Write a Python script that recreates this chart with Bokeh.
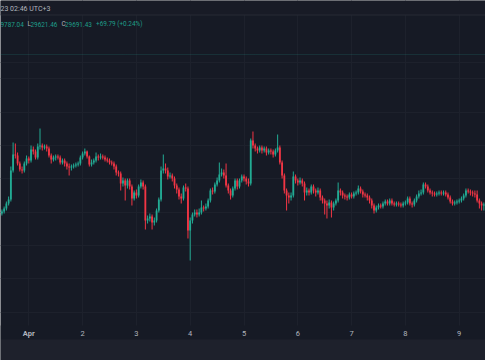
import datetime as dt
from bokeh.plotting import figure
from bokeh.models import Range1d, FixedTicker, Span, Label, ColumnDataSource, Grid
from bokeh.embed import file_html
from bokeh.resources import INLINE

# ---------------- data (hourly BTC candles, UTC+3) ----------------
first_bar = dt.datetime(2023, 3, 31, 12)

opens = [
    27784, 27808, 27844, 27904, 27952, 28300, 28492, 28480, 28384, 28312, 28300, 28384,
    28444, 28420, 28552, 28528, 28456, 28588, 28600, 28576, 28588, 28564, 28480, 28432,
    28456, 28468, 28456, 28396, 28420, 28384, 28348, 28336, 28348, 28360, 28372, 28384,
    28456, 28504, 28528, 28468, 28372, 28396, 28420, 28468, 28456, 28468, 28456, 28432,
    28420, 28396, 28384, 28348, 28276, 28264, 28144, 28180, 28120, 28180, 28108, 27964,
    28036, 28000, 28108, 28156, 28108, 27700, 27724, 27748, 27676, 27700, 27820, 27952,
    28300, 28324, 28300, 28228, 28240, 28204, 28120, 28072, 27988, 27964, 28096, 28084,
    27580, 27700, 27772, 27796, 27772, 27796, 27856, 27844, 27868, 27940, 28060, 28048,
    28132, 28180, 28252, 28276, 28240, 28120, 28060, 28000, 28084, 28180, 28108, 28180,
    28228, 28204, 28168, 28144, 28660, 28600, 28564, 28540, 28576, 28540, 28564, 28516,
    28540, 28528, 28492, 28540, 28576, 28396, 28240, 28060, 28000, 27976, 28000, 28228,
    28180, 28156, 28180, 28144, 28036, 28060, 28036, 28108, 28060, 28036, 28060, 27976,
    27940, 27904, 27880, 27916, 27856, 27904, 27940, 28060, 28036, 28000, 27988, 27976,
    28012, 27988, 28024, 28036, 28084, 28048, 28012, 28000, 27976, 27940, 27880, 27820,
    27856, 27880, 27868, 27904, 27928, 27904, 27940, 27904, 27892, 27904, 27892, 27880,
    27904, 27916, 27964, 27904, 27892, 27940, 27988, 28024, 28036, 28132, 28108, 28060,
    28036, 28024, 28012, 28024, 28036, 28024, 28036, 28012, 27976, 27928, 27904, 27916,
    27928, 27940, 27964, 28000, 28060, 28048, 28036, 28024, 28012, 27940, 27904, 27880,
]
closes = [
    27808, 27844, 27904, 27952, 28300, 28492, 28480, 28384, 28312, 28300, 28384, 28444,
    28420, 28552, 28528, 28456, 28588, 28600, 28576, 28588, 28564, 28480, 28432, 28456,
    28468, 28456, 28396, 28420, 28384, 28348, 28336, 28348, 28360, 28372, 28384, 28456,
    28504, 28528, 28468, 28372, 28396, 28420, 28468, 28456, 28468, 28456, 28432, 28420,
    28396, 28384, 28348, 28276, 28264, 28144, 28180, 28120, 28180, 28108, 27964, 28036,
    28000, 28108, 28156, 28108, 27700, 27724, 27748, 27676, 27700, 27820, 27952, 28300,
    28324, 28300, 28228, 28240, 28204, 28120, 28072, 27988, 27964, 28096, 28084, 27580,
    27700, 27772, 27796, 27772, 27796, 27856, 27844, 27868, 27940, 28060, 28048, 28132,
    28180, 28252, 28276, 28240, 28120, 28060, 28000, 28084, 28180, 28108, 28180, 28228,
    28204, 28168, 28144, 28660, 28600, 28564, 28540, 28576, 28540, 28564, 28516, 28540,
    28528, 28492, 28540, 28576, 28396, 28240, 28060, 28000, 27976, 28000, 28228, 28180,
    28156, 28180, 28144, 28036, 28060, 28036, 28108, 28060, 28036, 28060, 27976, 27940,
    27904, 27880, 27916, 27856, 27904, 27940, 28060, 28036, 28000, 27988, 27976, 28012,
    27988, 28024, 28036, 28084, 28048, 28012, 28000, 27976, 27940, 27880, 27820, 27856,
    27880, 27868, 27904, 27928, 27904, 27940, 27904, 27892, 27904, 27892, 27880, 27904,
    27916, 27964, 27904, 27892, 27940, 27988, 28024, 28036, 28132, 28108, 28060, 28036,
    28024, 28012, 28024, 28036, 28024, 28036, 28012, 27976, 27928, 27904, 27916, 27928,
    27940, 27964, 28000, 28060, 28048, 28036, 28024, 28012, 27940, 27904, 27880, 27892,
]
highs = [
    27832, 27868, 27928, 27988, 28348, 28636, 28624, 28516, 28408, 28348, 28408, 28480,
    28468, 28600, 28588, 28552, 28624, 28804, 28624, 28612, 28612, 28588, 28504, 28480,
    28492, 28492, 28480, 28444, 28444, 28408, 28384, 28372, 28384, 28396, 28408, 28480,
    28528, 28564, 28540, 28480, 28432, 28444, 28516, 28492, 28504, 28492, 28480, 28456,
    28444, 28420, 28408, 28372, 28300, 28288, 28216, 28204, 28204, 28204, 28132, 28060,
    28072, 28132, 28192, 28180, 28132, 27760, 27784, 27772, 27736, 27844, 27976, 28348,
    28492, 28384, 28336, 28276, 28264, 28228, 28144, 28096, 28024, 28120, 28144, 28108,
    27736, 27796, 27832, 27832, 27844, 27940, 27880, 27904, 27964, 28084, 28096, 28156,
    28216, 28396, 28324, 28312, 28384, 28144, 28084, 28108, 28204, 28204, 28204, 28252,
    28252, 28228, 28204, 28684, 28768, 28624, 28588, 28600, 28600, 28588, 28588, 28564,
    28564, 28552, 28564, 28732, 28600, 28420, 28264, 28084, 28036, 28036, 28288, 28252,
    28204, 28216, 28204, 28168, 28096, 28084, 28132, 28132, 28084, 28096, 28084, 28000,
    27964, 27940, 27952, 27940, 27928, 27964, 28156, 28084, 28060, 28024, 28012, 28036,
    28036, 28048, 28060, 28120, 28108, 28072, 28036, 28024, 28000, 27964, 27904, 27880,
    27904, 27904, 27928, 27952, 27952, 27964, 27964, 27928, 27928, 27928, 27916, 27928,
    27940, 27988, 27988, 27928, 27964, 28012, 28060, 28072, 28156, 28156, 28132, 28084,
    28060, 28048, 28048, 28060, 28060, 28060, 28060, 28036, 28000, 27952, 27940, 27952,
    27964, 27988, 28024, 28084, 28084, 28072, 28060, 28060, 28060, 27964, 27928, 27916,
]
lows = [
    27760, 27784, 27820, 27880, 27928, 28276, 28444, 28360, 28288, 28264, 28276, 28360,
    28384, 28396, 28492, 28432, 28432, 28552, 28540, 28552, 28528, 28456, 28384, 28408,
    28420, 28432, 28372, 28372, 28348, 28312, 28240, 28300, 28324, 28336, 28348, 28360,
    28432, 28480, 28444, 28348, 28348, 28372, 28396, 28420, 28432, 28432, 28408, 28396,
    28372, 28360, 28312, 28240, 28228, 28060, 28108, 27940, 28084, 28072, 27880, 27940,
    27964, 27976, 28084, 28072, 27592, 27664, 27688, 27592, 27640, 27676, 27796, 27928,
    28264, 28264, 28192, 28204, 28168, 28084, 28024, 27952, 27904, 27940, 28048, 27484,
    27220, 27664, 27748, 27736, 27748, 27772, 27808, 27820, 27844, 27916, 28012, 28024,
    28108, 28156, 28228, 28204, 28096, 28024, 27952, 27976, 28060, 28072, 28084, 28156,
    28168, 28132, 28108, 28120, 28564, 28528, 28504, 28516, 28504, 28516, 28480, 28492,
    28492, 28456, 28468, 28516, 28372, 28204, 28024, 27820, 27904, 27940, 27976, 28144,
    28120, 28132, 28108, 27940, 28000, 28000, 28012, 28024, 27988, 28012, 27940, 27904,
    27772, 27724, 27844, 27736, 27820, 27880, 27916, 28000, 27964, 27952, 27940, 27952,
    27964, 27964, 28000, 28012, 28024, 27976, 27976, 27940, 27904, 27844, 27784, 27796,
    27832, 27844, 27844, 27880, 27880, 27880, 27880, 27868, 27868, 27868, 27856, 27856,
    27880, 27892, 27880, 27856, 27868, 27916, 27964, 28000, 28012, 28084, 28036, 28012,
    27988, 27988, 27988, 28000, 28000, 28000, 27988, 27952, 27904, 27880, 27880, 27892,
    27904, 27916, 27940, 27976, 28024, 28000, 27988, 27976, 27916, 27844, 27820, 27820,
]

day_labels = ["Apr", "2", "3", "4", "5", "6", "7", "8", "9"]
day_dates = [dt.datetime(2023, 4, d) for d in range(1, 10)]
grid_prices = [29600, 29400, 29000, 28600, 28200, 27800, 27400, 27000, 26600]
last_price = 29691.43
header_time = "23 02:46 UTC+3"
legend_h_value = "9787.04"
legend_l_value = "29621.46"
legend_c_value = "29691.43"
legend_change = "+69.79 (+0.24%)"

# ---------------- layout helpers ----------------
W, H = 485, 360
EPOCH = dt.datetime(1970, 1, 1)
DAY_MS = 86400000.0
HOUR_MS = 3600000.0
PX_PER_DAY = 53.8
APR1_PX = 28.3
PRICE_PER_PX = 12.0
TOP_PRICE = 30340.0


def ms(t):
    return (t - EPOCH).total_seconds() * 1000.0


x_start = ms(day_dates[0]) - APR1_PX / PX_PER_DAY * DAY_MS
x_end = x_start + W / PX_PER_DAY * DAY_MS
y_top = TOP_PRICE
y_bottom = TOP_PRICE - H * PRICE_PER_PX


def xpx(px):
    return x_start + px / PX_PER_DAY * DAY_MS


def ypx(px):
    return TOP_PRICE - px * PRICE_PER_PX


BG = "#161a25"
GRID = "#1d212c"
UP = "#22ab94"
DOWN = "#f23645"
TEXT = "#b2b5be"
LEG = "#1f9e89"
FONT = "Roboto"

times = [first_bar + dt.timedelta(hours=i) for i in range(len(closes))]
colors = [UP if c >= o else DOWN for o, c in zip(opens, closes)]
src = ColumnDataSource(dict(
    t=times, o=opens, c=closes, h=highs, l=lows,
    top=[max(o, c) for o, c in zip(opens, closes)],
    bot=[min(o, c) for o, c in zip(opens, closes)],
    color=colors,
))

p = figure(width=W, height=H, x_range=Range1d(x_start, x_end),
           y_range=Range1d(y_bottom, y_top),
           x_axis_location=None, y_axis_location=None,
           output_backend="svg", toolbar_location=None, min_border=0,
           background_fill_color=BG, border_fill_color=BG,
           outline_line_color=None)
for g in p.grid:
    g.visible = False

p.add_layout(Grid(dimension=0, ticker=FixedTicker(ticks=[ms(d) for d in day_dates]),
                  grid_line_color=GRID, grid_line_width=1))
p.add_layout(Grid(dimension=1, ticker=FixedTicker(ticks=grid_prices),
                  grid_line_color=GRID, grid_line_width=1))

# last-price line
p.add_layout(Span(location=last_price, dimension="width", line_color="#26a69a",
                  line_alpha=0.35, line_width=1, line_dash="1 1"))

# candles
p.segment(x0="t", y0="l", x1="t", y1="h", line_color="color", line_width=1, source=src)
p.vbar(x="t", width=0.8 * HOUR_MS, top="top", bottom="bot",
       fill_color="color", line_color=None, source=src)

# header bar, time-axis strip, bottom panel
p.quad(left=[x_start], right=[x_end], top=[ypx(0)], bottom=[ypx(14.5)],
       fill_color="#181b26", line_color=None)
p.add_layout(Span(location=ypx(14.5), dimension="width", line_color="#262a35", line_width=1))
p.quad(left=[x_start], right=[x_end], top=[ypx(325)], bottom=[ypx(339)],
       fill_color=BG, line_color=None)
p.quad(left=[x_start], right=[x_end], top=[ypx(339)], bottom=[ypx(H)],
       fill_color="#1e212c", line_color=None)

# header texts
p.add_layout(Label(x=xpx(0), y=ypx(8.3), text=header_time, text_font=FONT,
                   text_font_size="7px", text_color=TEXT, text_baseline="middle",
                   text_align="left"))
legend_items = [
    (0, legend_h_value, LEG),
    (27, "L", TEXT),
    (30, legend_l_value, LEG),
    (61, "C", TEXT),
    (64.5, legend_c_value, LEG),
    (95.5, legend_change, LEG),
]
for xp, txt, col in legend_items:
    p.add_layout(Label(x=xpx(xp), y=ypx(23.7), text=txt, text_font=FONT,
                       text_font_size="6.4px", text_color=col, text_baseline="middle",
                       text_align="left"))

# time axis labels
for d, lab in zip(day_dates, day_labels):
    p.add_layout(Label(x=ms(d), y=ypx(333.3), text=lab, text_font=FONT,
                       text_font_size="7.5px", text_color=TEXT,
                       text_font_style="bold" if lab == "Apr" else "normal",
                       text_baseline="middle", text_align="center"))

open("out.html", "w").write(file_html(p, INLINE))
